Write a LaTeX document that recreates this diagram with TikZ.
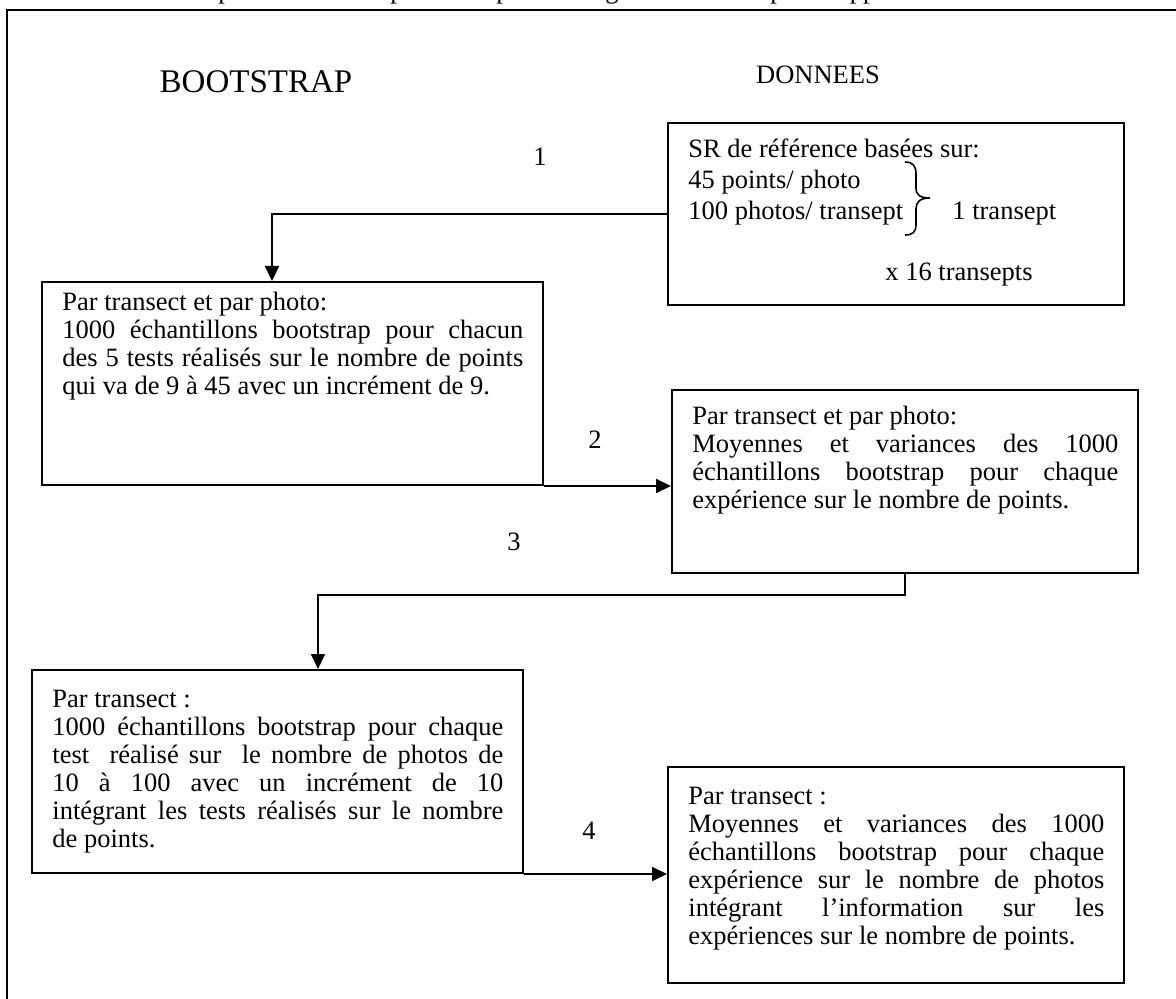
\documentclass[tikz,border=0pt]{standalone}
\usepackage{fontspec}
\setmainfont{Liberation Serif}
\usetikzlibrary{arrows.meta,fit}
\tikzset{
  boxnode/.style={draw, line width=1pt, rectangle, inner sep=0pt},
  para/.style={inner sep=0pt, anchor=north west, align=justify},
  lbl/.style={inner sep=0pt, anchor=base west},
  conn/.style={line width=0.9pt, -{Triangle[length=7.5pt,width=7pt]}},
}
\begin{document}
\begin{tikzpicture}[x=0.5pt,y=-0.5pt,font=\fontsize{13.25pt}{14pt}\selectfont]
\useasboundingbox (0,0) rectangle (1176,999);
% frame
\draw[line width=1pt] (7,999) -- (7,10) -- (1176,10);
% cut-off caption
\begin{scope}
\clip (0,0) rectangle (1176,8);
\node[inner sep=0pt,anchor=base] (c1) at (225,-1) {p};
\node[inner sep=0pt,anchor=base] (c2) at (397,-1) {p};
\node[inner sep=0pt,anchor=base] (c3) at (503,-1) {p};
\node[inner sep=0pt,anchor=base] (c4) at (612,-1) {g};
\node[inner sep=0pt,anchor=base] (c5) at (777,-1) {p};
\node[inner sep=0pt,anchor=base] (c6) at (863,-1) {pp};
\end{scope}
% headings
\node (hb) at (256,82) {\fontsize{16.5pt}{18pt}\selectfont BOOTSTRAP};
\node (hd) at (818,75) {DONNEES};
% boxes
\node[boxnode, fit={(668,123) (1124,305)}] (sr) {};
\node[boxnode, fit={(42,282) (543,485)}] (a) {};
\node[boxnode, fit={(672,390) (1138,573)}] (b) {};
\node[boxnode, fit={(32,670) (523,873)}] (c) {};
\node[boxnode, fit={(668,767) (1124,983)}] (d) {};
% SR box content
\node[lbl] (sr1) at (688,158) {SR de référence basées sur:};
\node[lbl] (sr2) at (688,189) {45 points/ photo};
\node[lbl] (sr3) at (688,220) {100 photos/ transept};
\node[lbl] (sr4) at (952,220) {1 transept};
\node[lbl] (sr5) at (885,281) {x 16 transepts};
\draw[line width=0.8pt] (905,162) .. controls (913,162) and (916,166) .. (916,174)
  -- (916,188) .. controls (916,195) and (920,198) .. (930,198)
  .. controls (920,198) and (916,202) .. (916,209)
  -- (916,224) .. controls (916,232) and (913,235) .. (905,235);
% paragraphs
\node[para, text width=230.5pt] (ta) at (62,292) {Par transect et par photo:\\
1000 échantillons bootstrap pour chacun\linebreak
des 5 tests réalisés sur le nombre de points\linebreak
qui va de 9 à 45 avec un incrément de 9.};
\node[para, text width=213pt] (tb) at (692,406) {Par transect et par photo:\\
Moyennes et variances des 1000\linebreak
échantillons bootstrap pour chaque\linebreak
expérience sur le nombre de points.};
\node[para, text width=225.5pt] (tc) at (52,690) {Par transect :\\
1000 échantillons bootstrap pour chaque\linebreak
test\ \ réalisé sur\ \ le nombre de photos de\linebreak
10 à 100 avec un incrément de 10\linebreak
intégrant les tests réalisés sur le nombre\linebreak
de points.};
\node[para, text width=208pt] (td) at (688,787) {Par transect :\\
Moyennes et variances des 1000\linebreak
échantillons bootstrap pour chaque\linebreak
expérience sur le nombre de photos\linebreak
intégrant l’information sur les\linebreak
expériences sur le nombre de points.};
% step numbers
\node (n1) at (540,157) {1};
\node (n2) at (595,440) {2};
\node (n3) at (514,542) {3};
\node (n4) at (589,831) {4};
% connectors
\draw[conn] (sr.west) -| ([xshift=-10.25pt]a.north);
\draw[conn] (a.south east) -- (a.south east -| b.west);
\draw[conn] (b.south) -- ++(0,21) -| ([xshift=20.25pt]c.north);
\draw[conn] (c.south east) -- (c.south east -| d.west);
\end{tikzpicture}
\end{document}
